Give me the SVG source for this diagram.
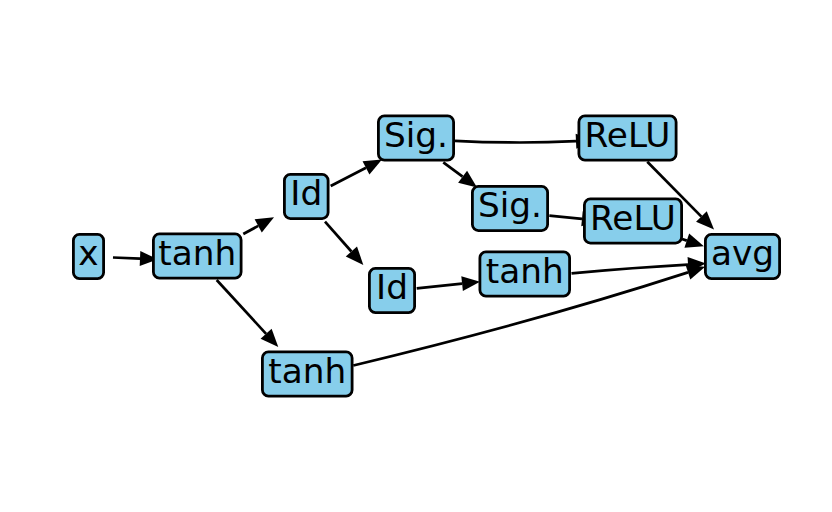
<svg xmlns="http://www.w3.org/2000/svg" width="832" height="512" viewBox="0 0 832 512">
<style>
.node rect{fill:#87CEEB;stroke:#000;stroke-width:2.8}
.node text{font-family:"DejaVu Sans",sans-serif;font-size:33px;fill:#000;text-anchor:middle}
.edges path{fill:none;stroke:#000;stroke-width:2.7;marker-end:url(#ah)}
</style>
<defs>
<marker id="ah" markerUnits="userSpaceOnUse" markerWidth="20" markerHeight="16" refX="0" refY="7.5" orient="auto" overflow="visible">
<path d="M0,0 L18,7.5 L0,15 Z" fill="#000"/>
</marker>
</defs>
<rect width="832" height="512" fill="#fff"/>
<g class="edges">
<path d="M113,257.5 L140,258.6"/>
<path d="M243.3,234 L258.2,225.9"/>
<path d="M216.7,280 L266.1,333.8"/>
<path d="M330.7,186 L366,167.8"/>
<path d="M325,221.7 L351.4,251.5"/>
<path d="M443.3,162.3 L462.6,176.7"/>
<path d="M455,140.8 Q516,144 576,141.2"/>
<path d="M549.3,215.7 L582,218.8"/>
<path d="M416.7,288.3 L462.1,283.6"/>
<path d="M647.3,161.7 L701.4,216.6"/>
<path d="M682,239 L686.8,240.6"/>
<path d="M571.5,273.3 Q635,267.5 688,264.6"/>
<path d="M353.3,365.5 Q535,322 688,272.4"/>
</g>
<g id="n_x" class="node"><rect x="73.4" y="234.4" width="30.2" height="44.2" rx="6"/><text transform="translate(88.5,265) scale(1.04,1)">x</text></g>
<g id="n_tanh1" class="node"><rect x="153.4" y="233.9" width="87.7" height="44.2" rx="6"/><text transform="translate(197.25,264.5) scale(1.04,1)">tanh</text></g>
<g id="n_id1" class="node"><rect x="284.4" y="174.4" width="43.7" height="44.2" rx="6"/><text transform="translate(306.25,205) scale(1.04,1)">Id</text></g>
<g id="n_tanh3" class="node"><rect x="262.4" y="351.9" width="89.7" height="44.2" rx="6"/><text transform="translate(307.25,382.5) scale(1.04,1)">tanh</text></g>
<g id="n_sig1" class="node"><rect x="378.4" y="115.9" width="75.2" height="44.2" rx="6"/><text transform="translate(416,146.5) scale(1.04,1)">Sig.</text></g>
<g id="n_sig2" class="node"><rect x="472.4" y="186.4" width="75.2" height="44.2" rx="6"/><text transform="translate(510,217) scale(1.04,1)">Sig.</text></g>
<g id="n_id2" class="node"><rect x="369.4" y="268.4" width="45.2" height="44.2" rx="6"/><text transform="translate(392,299) scale(1.04,1)">Id</text></g>
<g id="n_tanh2" class="node"><rect x="479.9" y="251.9" width="89.7" height="44.2" rx="6"/><text transform="translate(524.75,282.5) scale(1.04,1)">tanh</text></g>
<g id="n_relu1" class="node"><rect x="578.9" y="115.9" width="97.2" height="44.2" rx="6"/><text transform="translate(627.5,146.5) scale(1.04,1)">ReLU</text></g>
<g id="n_relu2" class="node"><rect x="584.4" y="198.9" width="97.2" height="44.2" rx="6"/><text transform="translate(633,229.5) scale(1.04,1)">ReLU</text></g>
<g id="n_avg" class="node"><rect x="705.4" y="234.4" width="74.2" height="44.2" rx="6"/><text transform="translate(742.5,265) scale(1.04,1)">avg</text></g>
</svg>
